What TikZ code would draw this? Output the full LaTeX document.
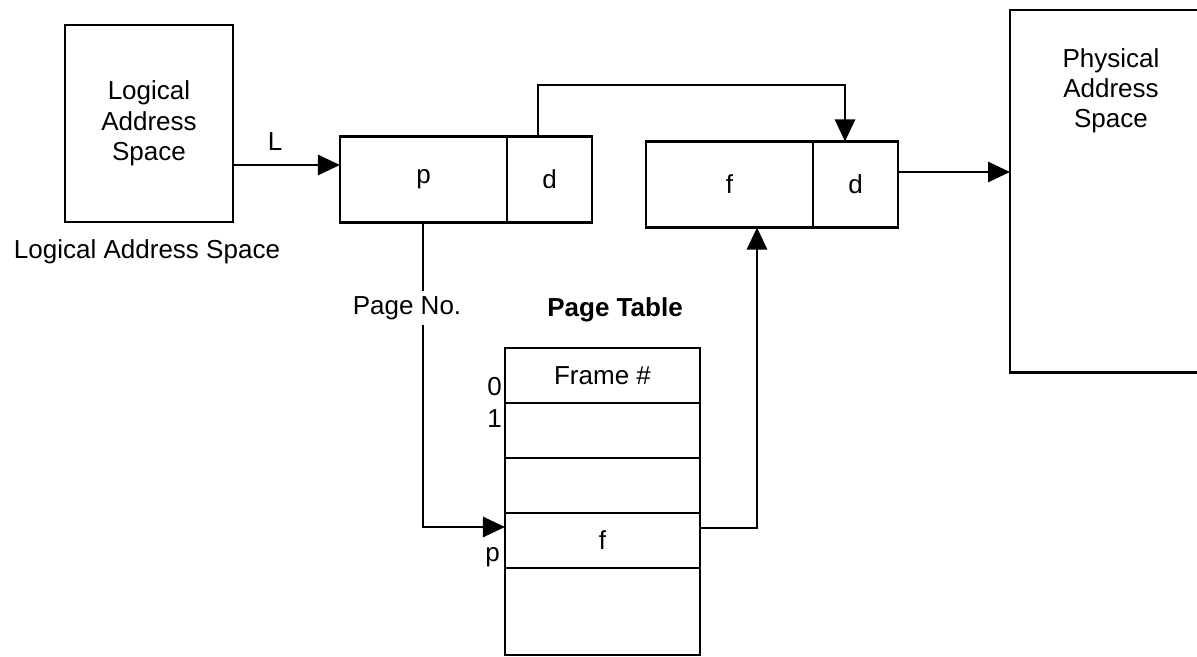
\documentclass[tikz,border=0pt]{standalone}
\usepackage{fontspec}
\setmainfont{Liberation Sans}
\usetikzlibrary{arrows.meta,positioning}

\tikzset{
  box/.style={draw,line width=2pt,outer sep=0pt,inner sep=0pt},
  cell/.style={box,minimum height=2.15cm},
  tabrow/.style={box,minimum width=4.875cm,minimum height=1.375cm},
  conn/.style={line width=2pt},
  arr/.style={conn,-{Triangle[length=0.55cm,width=0.5cm]}},
  idx/.style={anchor=base east,inner sep=0pt}
}

\begin{document}
\begin{tikzpicture}[x=0.025cm,y=-0.025cm,font=\fontsize{18.5}{21.5}\selectfont]

  % Frame: one unit = one pixel of the 1197 x 657 sheet, y downwards
  \useasboundingbox (0,0) rectangle (1197,657);
  \clip (0,0) rectangle (1197,657);

  % Logical address space
  \node[box,minimum width=4.2cm,minimum height=4.925cm,align=center] (logical) at (149,123.5)
    {Logical\\Address\\Space};
  \node (loglabel) at (147,252) {Logical Address Space};

  % Logical address: page number p and offset d
  \node[cell,minimum width=4.175cm] (pcell) at (423.5,179.5) {p};
  \node[cell,minimum width=2.125cm,right=0pt of pcell] (dcell) {d};

  % Physical address: frame f and offset d
  \node[cell,minimum width=4.175cm] (fcell) at (729.5,184.5) {f};
  \node[cell,minimum width=2.125cm,right=0pt of fcell] (dcell2) {d};

  % Physical address space, runs off the right edge
  \node[box,minimum width=6cm,minimum height=9.05cm,anchor=north west] (physical) at (1010,10) {};
  \node[align=center] (phystext) at (1111,91) {Physical\\Address\\Space};

  % Page table
  \node (tabtitle) at (615,310) {\bfseries Page Table};
  \node[tabrow,anchor=north] (row0) at (602.5,348) {Frame \#};
  \node[tabrow,below=0pt of row0] (row1) {};
  \node[tabrow,below=0pt of row1] (row2) {};
  \node[tabrow,below=0pt of row2] (row3) {f};
  \node[tabrow,minimum height=2.175cm,below=0pt of row3] (row4) {};

  % Row indices
  \node[idx] (idx0) at (502,395) {0};
  \node[idx] (idx1) at (502,427) {1};
  \node[idx] (idxp) at (500,561) {p};

  % Labels
  \node (L) at (275,142) {L};
  \node (pageno) at (407,308) {Page No.};

  % Helper coordinates for the connectors
  \coordinate (lin) at (0,165);
  \coordinate (dup) at (538,85);
  \coordinate (ddown) at (845,0);
  \coordinate (pout) at (0,172);
  \coordinate (pn) at (423,0);
  \coordinate (tin) at (0,527);
  \coordinate (tout) at (0,528);
  \coordinate (fup) at (757,0);

  % L into p|d
  \draw[arr] (logical.east |- lin) -- (pcell.west |- lin);

  % offset d copied across
  \draw[arr] (dcell.north -| dup) |- (ddown |- dup) -- (ddown |- dcell2.north);

  % f|d to physical memory
  \draw[arr] (dcell2.east |- pout) -- (physical.west |- pout);

  % page number into the table
  \draw[conn] (pcell.south -| pn) -- (pn |- pageno.north);
  \draw[arr] (pn |- pageno.south) |- (row3.west |- tin);

  % frame number up to f
  \draw[arr] (row3.east |- tout) -| (fcell.south -| fup);

\end{tikzpicture}
\end{document}
